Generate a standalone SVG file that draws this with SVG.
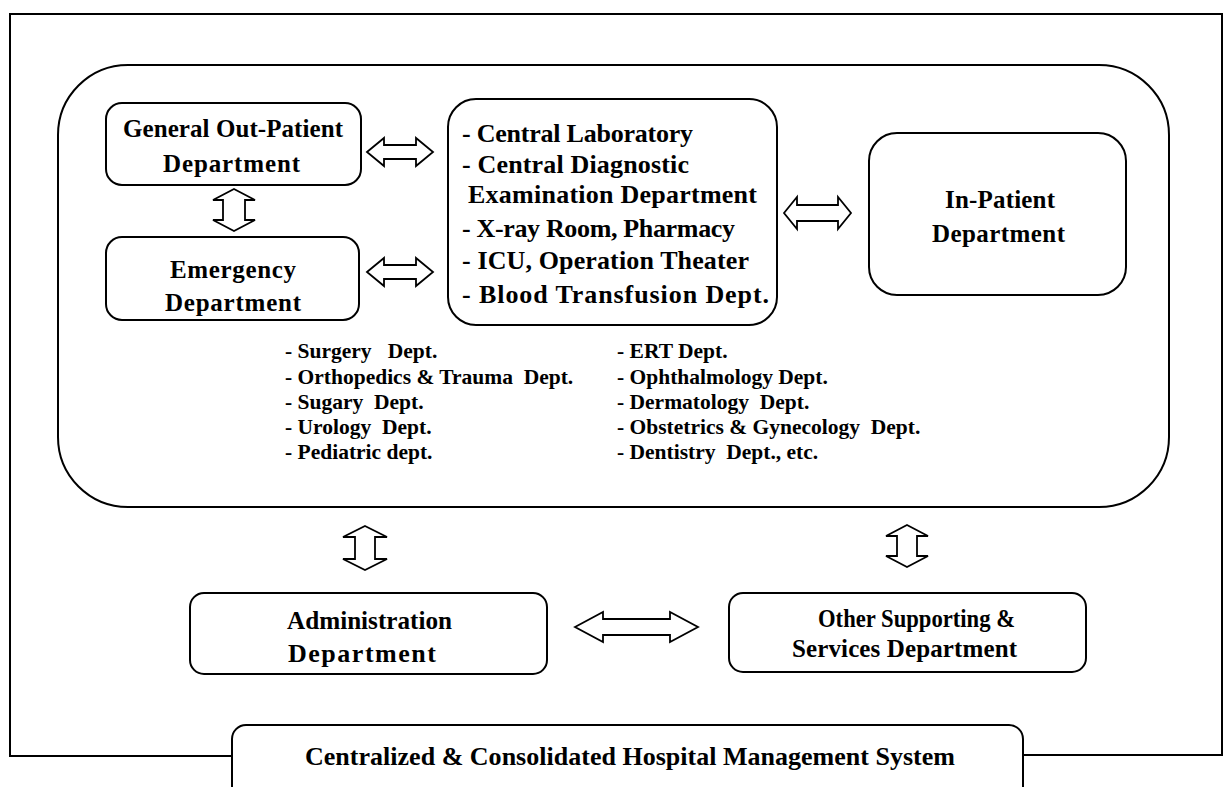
<svg xmlns="http://www.w3.org/2000/svg" width="1225" height="787" viewBox="0 0 1225 787">
<style>
.box{fill:#fff;stroke:#000;stroke-width:2}
.frame{fill:none;stroke:#000;stroke-width:2}
.arr{fill:#fff;stroke:#000;stroke-width:1.8;stroke-linejoin:miter}
text{font-family:"Liberation Serif","Times New Roman",serif;font-weight:bold;fill:#000}
.t{font-size:25px}
.c{font-size:26px}
.l{font-size:21.5px;white-space:pre}
</style>
<rect width="1225" height="787" fill="#fff"/>
<g id="system-frame">
<path class="frame" d="M232,756 H10 V14 H1222 V755 H1023"/>
<rect class="box" x="58" y="65" width="1111" height="442" rx="70"/>
</g>
<g id="gopd">
<rect class="box" x="106" y="103" width="255" height="82" rx="16"/>
<text class="t" x="123" y="137" textLength="220" lengthAdjust="spacing">General Out-Patient</text>
<text class="t" x="163" y="172" textLength="137" lengthAdjust="spacing">Department</text>
</g>
<g id="emergency">
<rect class="box" x="106" y="237" width="253" height="83" rx="16"/>
<text class="t" x="170" y="278" textLength="126" lengthAdjust="spacing">Emergency</text>
<text class="t" x="165" y="311" textLength="136" lengthAdjust="spacing">Department</text>
</g>
<g id="central">
<rect class="box" x="448" y="99" width="329" height="226" rx="28"/>
<text class="c" x="462" y="142" textLength="231" lengthAdjust="spacing">- Central Laboratory</text>
<text class="c" x="462" y="173" textLength="227" lengthAdjust="spacing">- Central Diagnostic</text>
<text class="c" x="468" y="203" textLength="289" lengthAdjust="spacing">Examination Department</text>
<text class="c" x="462" y="237" textLength="273" lengthAdjust="spacing">- X-ray Room, Pharmacy</text>
<text class="c" x="462" y="269" textLength="287" lengthAdjust="spacing">- ICU, Operation Theater</text>
<text class="c" x="462" y="303" textLength="307" lengthAdjust="spacing">- Blood Transfusion Dept.</text>
</g>
<g id="inpatient">
<rect class="box" x="869" y="133" width="257" height="162" rx="28"/>
<text class="t" x="945" y="208" textLength="110" lengthAdjust="spacing">In-Patient</text>
<text class="t" x="932" y="242" textLength="133" lengthAdjust="spacing">Department</text>
</g>
<g id="dept-list">
<text class="l" x="285" y="358" xml:space="preserve">- Surgery   Dept.</text>
<text class="l" x="285" y="384" xml:space="preserve">- Orthopedics &amp; Trauma  Dept.</text>
<text class="l" x="285" y="409" xml:space="preserve">- Sugary  Dept.</text>
<text class="l" x="285" y="434" xml:space="preserve">- Urology  Dept.</text>
<text class="l" x="285" y="459" xml:space="preserve">- Pediatric dept.</text>
<text class="l" x="617" y="358" xml:space="preserve">- ERT Dept.</text>
<text class="l" x="617" y="384" xml:space="preserve">- Ophthalmology Dept.</text>
<text class="l" x="617" y="409" xml:space="preserve">- Dermatology  Dept.</text>
<text class="l" x="617" y="434" xml:space="preserve">- Obstetrics &amp; Gynecology  Dept.</text>
<text class="l" x="617" y="459" xml:space="preserve">- Dentistry  Dept., etc.</text>
</g>
<g id="administration">
<rect class="box" x="190" y="593" width="357" height="81" rx="14"/>
<text class="t" x="287" y="629" textLength="165" lengthAdjust="spacingAndGlyphs" style="font-size:26px">Administration</text>
<text class="t" x="288" y="662" textLength="148" lengthAdjust="spacing" style="font-size:26px">Department</text>
</g>
<g id="other-supporting">
<rect class="box" x="729" y="593" width="357" height="79" rx="14"/>
<text class="t" x="818" y="627" textLength="197" lengthAdjust="spacingAndGlyphs">Other Supporting &amp;</text>
<text class="t" x="792" y="657" textLength="225" lengthAdjust="spacing">Services Department</text>
</g>
<g id="hms">
<rect class="box" x="232" y="725" width="791" height="85" rx="14"/>
<text class="c" x="305" y="765" textLength="650" lengthAdjust="spacing">Centralized &amp; Consolidated Hospital Management System</text>
</g>
<g id="connectors">
<polygon class="arr" points="367,152 384,138 384,145 416,145 416,138 433,152 416,166 416,159 384,159 384,166"/>
<polygon class="arr" points="367,272 384,258 384,265 416,265 416,258 433,272 416,286 416,279 384,279 384,286"/>
<polygon class="arr" points="784,213 797,197 797,205 838,205 838,197 851,213 838,229 838,221 797,221 797,229"/>
<polygon class="arr" points="234,189 255,200 245,200 245,220 255,220 234,231 213,220 223,220 223,200 213,200"/>
<polygon class="arr" points="365,526 387,537 375,537 375,559 387,559 365,570 343,559 355,559 355,537 343,537"/>
<polygon class="arr" points="907,525 928,536 917,536 917,556 928,556 907,567 886,556 897,556 897,536 886,536"/>
<polygon class="arr" points="575,627 603,612 603,619 670,619 670,612 698,627 670,642 670,635 603,635 603,642"/>
</g>
</svg>
